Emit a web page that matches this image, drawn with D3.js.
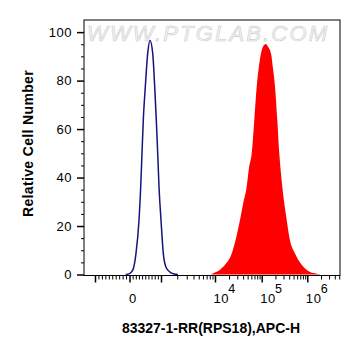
<!DOCTYPE html>
<html>
<head>
<meta charset="utf-8">
<script src="https://cdn.jsdelivr.net/npm/d3@7"></script>
<style>
  body { margin: 0; background: #fff; }
  text { font-family: "Liberation Sans", Arial, sans-serif; }
</style>
</head>
<body>
<div id="chart"></div>
<script>
// isotype control (blue outline), fluorescence value -> cell count
var controlValues = [-111, 16, 111, 206, 302, 356, 397, 438, 502, 578, 651, 737, 800, 851, 895, 937, 1000, 1103, 1238, 1468, 1690, 2065];
var controlCounts = [0, 0.5, 2, 8.7, 22.5, 36.2, 50, 63.7, 77.5, 91.2, 96.5, 91.2, 77.5, 63.7, 50, 36.2, 22.5, 8.7, 3, 1, 0.3, 0];

// 83327-1-RR stained sample (red filled)
var sampleValues = [8430, 9300, 12800, 16400, 22800, 28200, 34300, 39800, 47700, 53500, 61100, 69500, 78200, 87500, 96600, 106800, 122400, 137500, 159900, 176900, 195800, 220000, 243300, 283200, 353300, 417600, 537500, 691800, 890300, 1146000, 1607000, 1900000];
var sampleCounts = [0, 0.5, 2, 4, 8.7, 15, 22.5, 29, 36.2, 44, 50, 63.7, 77.5, 86, 91.2, 94, 95.1, 94, 91.2, 85, 77.5, 63.7, 50, 36.2, 22.5, 14, 8.7, 5, 2.5, 1, 0.3, 0];

var yTicks = [0, 20, 40, 60, 80, 100];
var xLabels = [{ v: 0, base: "0", exp: "" }, { v: 1e4, base: "10", exp: "4" }, { v: 1e5, base: "10", exp: "5" }, { v: 1e6, base: "10", exp: "6" }];

function init() {
  var W = 361, H = 356;
  var left = 84, right = 340, top = 20, bottom = 275.5;

  // biexponential-like display: linear within +-1000, log above
  function toU(v) {
    var a = Math.abs(v);
    return a <= 1000 ? v / 1000 : Math.sign(v) * (1 + Math.log10(a / 1000));
  }

  var xScale = d3.scaleLinear()
    .domain([-1.319, -1, 0, 1, 2, 3, 4, 4.716])
    .range([left, 95, 129.5, 161, 215, 261.7, 307.3, right]);

  var yScale = d3.scaleLinear().domain([0, 105]).range([274.5, top]);

  var svg = d3.select("#chart").append("svg")
    .attr("width", W).attr("height", H);

  var control = controlValues.map(function (v, i) { return [toU(v), controlCounts[i]]; });
  var sample = sampleValues.map(function (v, i) { return [toU(v), sampleCounts[i]]; });

  // watermark
  svg.append("text")
    .attr("x", 87).attr("y", 41)
    .attr("textLength", 240)
    .attr("lengthAdjust", "spacing")
    .style("font-size", "22px")
    .style("font-style", "italic")
    .style("fill", "#f5f5f5")
    .style("stroke", "#cccccc")
    .style("stroke-width", 0.6)
    .text("WWW.PTGLAB.COM");

  // red filled histogram
  var area = d3.area()
    .x(function (d) { return xScale(d[0]); })
    .y0(yScale(0))
    .y1(function (d) { return yScale(d[1]); })
    .curve(d3.curveMonotoneX);

  svg.append("path").datum(sample)
    .attr("d", area)
    .attr("fill", "#ff0000");

  // blue outline histogram
  var line = d3.line()
    .x(function (d) { return xScale(d[0]); })
    .y(function (d) { return yScale(d[1]); })
    .curve(d3.curveMonotoneX);

  svg.append("path").datum(control)
    .attr("d", line)
    .attr("fill", "none")
    .attr("stroke", "#14147e")
    .attr("stroke-width", 1.5);

  // frame
  svg.append("rect")
    .attr("x", left).attr("y", top)
    .attr("width", right - left).attr("height", bottom - top)
    .attr("fill", "none").attr("stroke", "#000").attr("stroke-width", 1);

  // y axis
  var yMinor = d3.range(5, 105, 5).filter(function (d) { return d % 20 !== 0; });
  svg.append("g").attr("transform", "translate(" + left + ",0)")
    .call(d3.axisLeft(yScale).tickValues(yMinor).tickSize(3).tickFormat(""))
    .call(function (g) { g.select(".domain").remove(); });

  var yAx = svg.append("g").attr("transform", "translate(" + left + ",0)")
    .call(d3.axisLeft(yScale).tickValues(yTicks).tickSize(7).tickPadding(5))
    .call(function (g) { g.select(".domain").remove(); });
  yAx.selectAll("line").attr("stroke-width", 1.5);
  yAx.selectAll("text")
    .style("font-size", "13px")
    .style("letter-spacing", "0.5px")
    .style("font-family", "Liberation Sans, Arial, sans-serif")
    .attr("fill", "#000");

  // x axis ticks
  var xMajor = [-1, 0, 1, 2, 3, 4];
  var xMinor = [];
  for (var k = 1; k < 10; k++) { xMinor.push(k / 10); xMinor.push(-k / 10); }
  [1, 2, 3, 4].forEach(function (dec) {
    for (var m = 2; m < 10; m++) {
      var u = dec + Math.log10(m);
      if (xScale(u) <= right) xMinor.push(u);
    }
  });

  svg.append("g").attr("transform", "translate(0," + bottom + ")")
    .call(d3.axisBottom(xScale).tickValues(xMinor).tickSize(4).tickFormat(""))
    .call(function (g) { g.select(".domain").remove(); });

  var xAx = svg.append("g").attr("transform", "translate(0," + bottom + ")")
    .call(d3.axisBottom(xScale).tickValues(xMajor).tickSize(7).tickFormat(""))
    .call(function (g) { g.select(".domain").remove(); });
  xAx.selectAll("line").attr("stroke-width", 1.5);

  // x tick labels with superscripts
  var labG = svg.append("g");
  xLabels.forEach(function (d) {
    var x0 = xScale(toU(d.v)) - 1.5;
    var base = labG.append("text")
      .attr("x", x0 + (d.exp ? 0 : 1)).attr("y", 303)
      .style("font-size", "13px")
      .style("letter-spacing", "0.6px")
      .text(d.base);
    if (d.exp) {
      var bw = base.node().getComputedTextLength();
      labG.append("text")
        .attr("x", x0 + bw - 0.8).attr("y", 293)
        .style("font-size", "12.5px")
        .text(d.exp);
    }
  });

  // axis titles
  svg.append("text")
    .attr("x", (left + right) / 2 - 1)
    .attr("y", 333)
    .attr("text-anchor", "middle")
    .style("font-size", "14px")
    .style("font-weight", "bold")
    .text("83327-1-RR(RPS18),APC-H");

  svg.append("text")
    .attr("transform", "translate(32.5,143.5) rotate(-90)")
    .attr("text-anchor", "middle")
    .style("font-size", "14px")
    .style("font-weight", "bold")
    .style("letter-spacing", "0.35px")
    .text("Relative Cell Number");
}

window.onload = init;
</script>
</body>
</html>
